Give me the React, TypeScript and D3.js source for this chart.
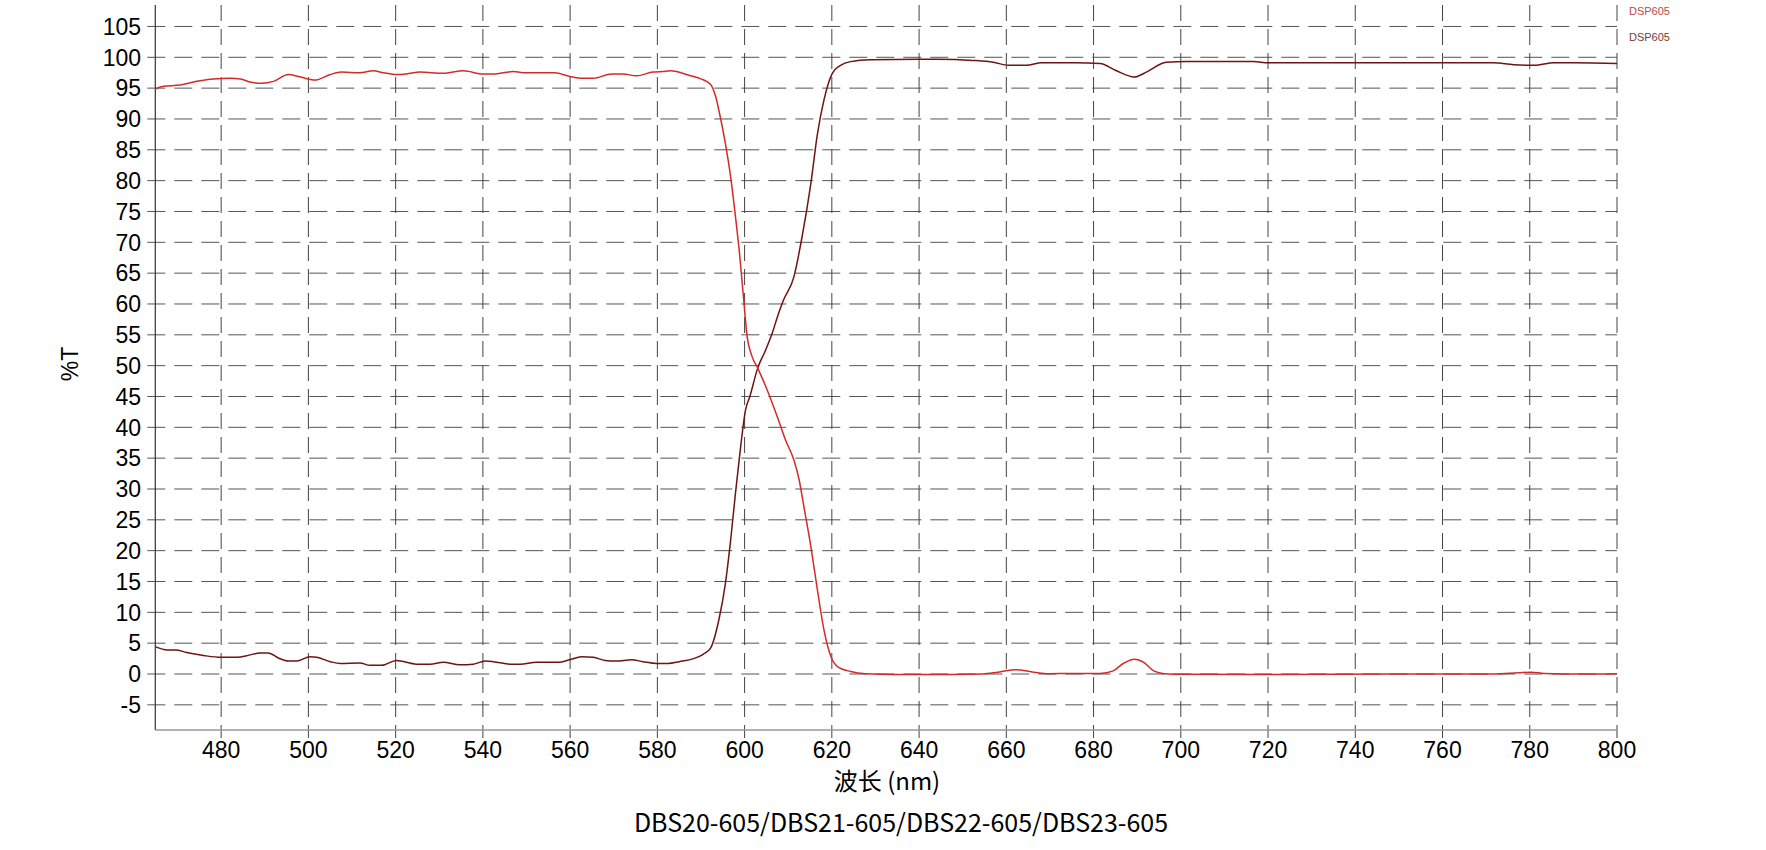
import React from "react";
import * as d3 from "d3";

const xTicks = [480, 500, 520, 540, 560, 580, 600, 620, 640, 660, 680, 700, 720, 740, 760, 780, 800];
const yTicks = [-5, 0, 5, 10, 15, 20, 25, 30, 35, 40, 45, 50, 55, 60, 65, 70, 75, 80, 85, 90, 95, 100, 105];

const redX = [465, 466.8, 470.6, 474.4, 478.2, 482.1, 484.4, 486.6, 489.3, 492, 495.4, 497.7, 501.5, 505, 507.6, 511.8, 514.9, 517.2, 520.2, 522.5, 525.6, 530.9, 535.5, 540.1, 542.4, 547, 549.2, 556.5, 559.9, 563, 565.3, 569.5, 572.1, 575.2, 579, 581.3, 583, 587.6, 590, 592.2, 593.3, 594.4, 595.6, 596.8, 597.9, 598.9, 599.8, 600.5, 601.7, 603, 605.5, 607.5, 609.4, 611.3, 612.5, 613.6, 615.2, 616.7, 618.2, 619.8, 621.3, 624.3, 627.7, 640, 654.6, 658.1, 662.2, 666.3, 669.8, 674.5, 681.5, 684.5, 686.8, 689.4, 691.5, 693.8, 696.2, 701.4, 720.1, 748.2, 771.6, 777.4, 780.4, 783.3, 792.7, 800];
const redY = [94.9, 95.3, 95.5, 96.1, 96.5, 96.6, 96.5, 96.0, 95.8, 96.1, 97.2, 96.9, 96.3, 97.2, 97.6, 97.5, 97.8, 97.5, 97.2, 97.3, 97.6, 97.4, 97.8, 97.3, 97.3, 97.7, 97.5, 97.5, 96.9, 96.6, 96.6, 97.3, 97.3, 97.0, 97.6, 97.7, 97.8, 97.0, 96.5, 95.6, 93.8, 90.4, 86.0, 80.6, 74.2, 67.7, 60.6, 55.2, 51.5, 49.6, 45.5, 41.7, 37.9, 34.7, 31.5, 27.1, 20.6, 13.6, 7.1, 2.8, 1.2, 0.4, 0.05, -0.1, 0, 0.3, 0.7, 0.3, 0.05, 0.1, 0.1, 0.5, 1.7, 2.4, 1.9, 0.5, 0.05, -0.05, -0.1, 0, 0, 0.2, 0.3, 0.1, 0, 0.05];

const darkX = [465, 467.6, 469.5, 472.1, 476, 480, 483.6, 486.6, 488.9, 490.8, 493.1, 495.4, 497.3, 500.4, 501.9, 505, 507.3, 511.8, 514.1, 516.8, 520.2, 524.8, 527.9, 530.9, 534.7, 537.8, 540.5, 542.4, 546.2, 548.5, 552.3, 557.3, 559.9, 562.6, 565.3, 568, 570.6, 574.1, 576.7, 579.8, 582.5, 585, 588.3, 590.5, 592.2, 594.1, 595.6, 596.8, 597.9, 599.1, 600.2, 601.2, 603, 604.8, 606.3, 607.8, 608.9, 611.3, 613.2, 615.2, 616.7, 618.2, 620.1, 622, 624.3, 628.9, 640, 644.1, 652.3, 657, 660.5, 664.6, 668.1, 675.7, 681.5, 685, 689.4, 692.1, 696.7, 701.4, 716.6, 720.1, 771.6, 776.3, 781, 785.6, 790.3, 800];
const darkY = [4.4, 3.9, 3.9, 3.5, 3.0, 2.7, 2.7, 3.1, 3.4, 3.4, 2.6, 2.1, 2.1, 2.8, 2.7, 2.0, 1.7, 1.8, 1.4, 1.4, 2.2, 1.6, 1.6, 1.9, 1.5, 1.6, 2.1, 2.0, 1.6, 1.6, 1.9, 1.9, 2.3, 2.8, 2.7, 2.2, 2.1, 2.3, 2.0, 1.7, 1.7, 2.0, 2.5, 3.2, 4.2, 8.8, 14.7, 21.7, 29.3, 36.9, 42.8, 45.0, 49.6, 52.5, 55.2, 58.5, 60.6, 64.4, 71.0, 79.6, 87.6, 93.1, 97.4, 98.7, 99.3, 99.6, 99.7, 99.7, 99.5, 99.2, 98.7, 98.7, 99.1, 99.1, 99.0, 97.9, 96.8, 97.6, 99.2, 99.3, 99.3, 99.1, 99.1, 98.8, 98.7, 99.1, 99.1, 99.0];

const legendLabels = ["DSP605", "DSP605"];
const xTitle = "波长 (nm)";
const yTitle = "%T";
const caption = "DBS20-605/DBS21-605/DBS22-605/DBS23-605";

const W = 1766;
const H = 850;
const L = 155.3, R = 1617, T = 5, B = 730;

export default function App() {
  const x = d3.scaleLinear().domain([464.9, 800]).range([L, R]);
  const y = d3.scaleLinear().domain([-9.08, 108.48]).range([B, T]);
  const line = d3.line<[number, number]>().x(d => x(d[0])).y(d => y(d[1])).curve(d3.curveMonotoneX);
  const redPts = redX.map((v, i) => [v, redY[i]] as [number, number]);
  const darkPts = darkX.map((v, i) => [v, darkY[i]] as [number, number]);
  const tickFont = "'Liberation Sans', Arial, sans-serif";
  const cjkFont = "'Noto Sans CJK SC', sans-serif";
  return (
    <svg width={W} height={H} style={{ position: "absolute", left: 0, top: 0, background: "#fff" }}>
      {yTicks.map(t => (
        <line key={"h" + t} x1={L - 8} x2={R} y1={y(t)} y2={y(t)} stroke="#555" strokeWidth={1} strokeDasharray="18,9" />
      ))}
      {xTicks.map(t => (
        <line key={"v" + t} x1={x(t)} x2={x(t)} y1={T} y2={B + 8} stroke="#444" strokeWidth={1} strokeDasharray="16,8" />
      ))}
      <line x1={L} x2={L} y1={T} y2={B} stroke="#333" strokeWidth={1.2} />
      <line x1={L} x2={R} y1={B} y2={B} stroke="#999" strokeWidth={1.6} />
      <line x1={R} x2={R} y1={B} y2={B + 8} stroke="#999" strokeWidth={1} />
      {yTicks.map(t => (
        <text key={"yl" + t} x={141} y={y(t)} dy="0.36em" textAnchor="end" fontFamily={tickFont} fontSize={23} fill="#000">{t}</text>
      ))}
      {xTicks.map(t => (
        <text key={"xl" + t} x={x(t)} y={750} dy="0.36em" textAnchor="middle" fontFamily={tickFont} fontSize={23} fill="#000">{t}</text>
      ))}
      <path d={line(darkPts) || ""} fill="none" stroke="#6e1414" strokeWidth={1.5} />
      <path d={line(redPts) || ""} fill="none" stroke="#d42a2a" strokeWidth={1.5} />
      <text x={1629} y={11} dy="0.35em" fontFamily={tickFont} fontSize={11} fill="#c04848">{legendLabels[0]}</text>
      <text x={1629} y={37} dy="0.35em" fontFamily={tickFont} fontSize={11} fill="#7a3a3a">{legendLabels[1]}</text>
      <text x={887} y={781} dy="0.36em" textAnchor="middle" fontFamily={cjkFont} fontSize={24} fill="#000">{xTitle}</text>
      <text transform={`translate(70,364) rotate(-90)`} dy="0.36em" textAnchor="middle" fontFamily={tickFont} fontSize={23} fill="#000">{yTitle}</text>
      <text x={901} y={823} dy="0.36em" textAnchor="middle" fontFamily={cjkFont} fontSize={25} fill="#000">{caption}</text>
    </svg>
  );
}
